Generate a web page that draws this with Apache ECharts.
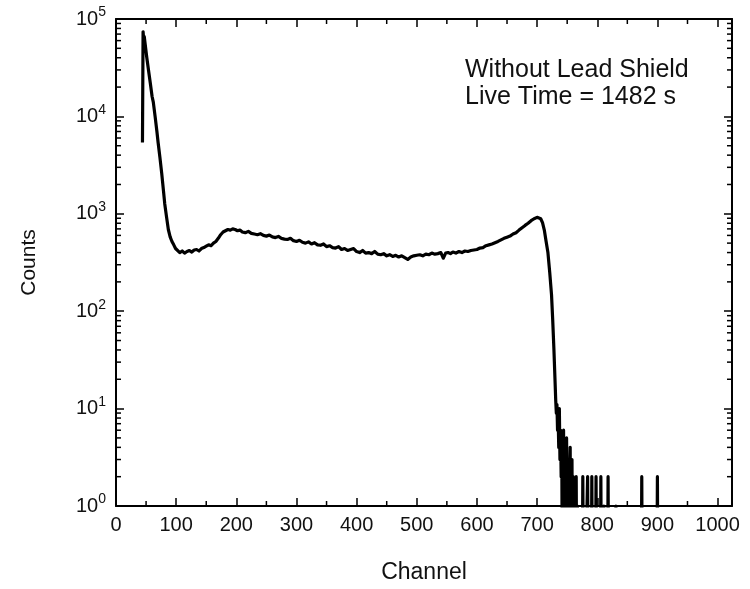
<!DOCTYPE html>
<html>
<head>
<meta charset="utf-8">
<script src="https://cdn.jsdelivr.net/npm/echarts@6/dist/echarts.min.js"></script>
<style>
html,body{margin:0;padding:0;background:#fff;}
#chart{width:750px;height:589px;}
</style>
</head>
<body>
<div id="chart"></div>
<script>
// ---- data ----
var channels = [44,45,46,47,49,51,54,57,60,62,65,68,70,73,76,79,81,84,87,90,93,96,99,102,106,110,114,118,122,126,130,134,138,142,146,150,154,158,162,166,170,174,178,182,186,190,194,198,202,206,210,215,220,225,230,235,240,245,250,255,260,265,270,275,280,285,290,295,300,305,310,315,320,325,330,335,340,345,350,355,360,365,370,375,380,385,390,395,400,405,410,415,420,425,430,435,440,445,450,455,460,465,470,475,480,485,490,495,500,505,510,515,520,525,530,535,540,544,548,552,556,560,565,570,575,580,585,590,595,600,605,610,615,620,625,630,635,640,645,650,655,660,665,670,675,680,685,690,695,700,703,706,709,712,715,718,721,724,726,728,730,731,732,733,734,735,736,737,738,739,740,741,742,743,744,745,746,747,748,749,750,751,752,753,754,755,756,757,758,759,760,761,762,763,764,765,766,767,768,775,776,777,782,783,784,785,790,791,792,797,798,799,805,806,807,810,811,812,813,817,818,819,830,831,832,833,873,874,875,899,900,901,1024];
var counts = [5400,74000,62000,66000,52000,41000,30000,22000,16000,14000,10000,7000,5400,3800,2600,1700,1270,930,690,580,520,480,440,420,400,415,395,410,420,405,425,430,415,440,450,465,480,470,500,520,560,610,650,670,690,680,700,690,670,680,650,640,660,630,620,610,625,600,590,605,580,570,585,560,550,545,560,530,520,535,510,500,515,490,505,480,475,490,460,470,450,445,460,430,440,420,430,440,410,400,420,395,400,390,410,385,380,390,370,380,365,375,360,370,355,340,360,370,375,380,370,385,380,395,385,390,400,350,395,400,390,405,395,410,400,415,410,420,425,430,445,450,470,480,490,505,520,540,560,575,590,620,640,680,720,760,800,850,890,920,930,890,810,680,520,400,250,147,80,40,18,12,9,11,6,8,4,10,3,6,2,5,0,4,6,0,3,2,0,5,1,0,3,0,2,4,0,1,3,0,2,0,1,1,0,2,0,1,0,0,2,0,0,1,2,0,0,2,0,0,2,0,0,2,0,0,1,1,0,0,2,0,0,1,1,0,0,2,0,0,2,0,0];
var xTickLabels = ['0','100','200','300','400','500','600','700','800','900','1000'];
var xMinorTicks = [50,150,250,350,450,550,650,750,850,950];
var yMinorMantissas = [2,3,4,5,6,7,8,9];
var yDecades = [1,10,100,1000,10000];
var annotation = ['Without Lead Shield', 'Live Time = 1482 s'];

// build series data (zero counts fall below the log axis and are clipped)
var lineData = channels.map(function (c, i) {
  return [c, counts[i] > 0 ? counts[i] : 0.1];
});
var yMinorData = [];
yDecades.forEach(function (d) {
  yMinorMantissas.forEach(function (m) { yMinorData.push([0, m * d]); });
});
var xMinorData = xMinorTicks.map(function (v) { return [v, 1]; });

var FONT = 'Liberation Sans, Arial, sans-serif';
var X_MIN = 0, X_MAX = 1024, Y_MIN = 1, Y_MAX = 100000;

var chart = echarts.init(document.getElementById('chart'), null, {renderer: 'canvas'});

function tickLine(x1, y1, x2, y2) {
  return {type: 'line', shape: {x1: x1, y1: y1, x2: x2, y2: y2},
          style: {stroke: '#000', lineWidth: 1.5}};
}

var option = {
  animation: false,
  backgroundColor: '#fff',
  title: {
    text: annotation.join('\n'),
    left: 465, top: 57, padding: 0,
    textStyle: {fontFamily: FONT, fontSize: 25, fontWeight: 'normal', color: '#111', lineHeight: 27}
  },
  grid: {left: 116, right: 18, top: 19, bottom: 74, containLabel: false},
  xAxis: [{
    type: 'value', min: X_MIN, max: X_MAX, interval: 100, position: 'bottom',
    name: 'Channel', nameLocation: 'middle', nameGap: 55,
    nameTextStyle: {fontFamily: FONT, fontSize: 23, color: '#111'},
    axisLine: {show: true, onZero: false, lineStyle: {color: '#000', width: 2}},
    axisTick: {show: true, inside: true, length: 8, lineStyle: {color: '#000', width: 1.5}},
    axisLabel: {show: true, margin: 9, showMaxLabel: false, fontFamily: FONT, fontSize: 20, color: '#111',
      formatter: function (v) { return xTickLabels[Math.round(v / 100)] || ''; }},
    splitLine: {show: false}
  }, {
    type: 'value', min: X_MIN, max: X_MAX, interval: 100, position: 'top',
    axisLine: {show: true, onZero: false, lineStyle: {color: '#000', width: 2}},
    axisTick: {show: true, inside: true, length: 8, lineStyle: {color: '#000', width: 1.5}},
    axisLabel: {show: false}, splitLine: {show: false}
  }],
  yAxis: [{
    type: 'log', logBase: 10, min: Y_MIN, max: Y_MAX, position: 'left',
    name: 'Counts', nameLocation: 'middle', nameGap: 76,
    nameTextStyle: {fontFamily: FONT, fontSize: 21, color: '#111'},
    axisLine: {show: true, onZero: false, lineStyle: {color: '#000', width: 2}},
    axisTick: {show: true, inside: true, length: 8, lineStyle: {color: '#000', width: 1.5}},
    axisLabel: {show: true, margin: 10, color: '#111',
      formatter: function (v) { return '{b|10}{s|' + Math.round(Math.log10(v)) + '}'; },
      rich: {
        b: {fontFamily: FONT, fontSize: 20, color: '#111'},
        s: {fontFamily: FONT, fontSize: 14, color: '#111', padding: [0, 0, 13, 0]}
      }},
    splitLine: {show: false}
  }, {
    type: 'log', logBase: 10, min: Y_MIN, max: Y_MAX, position: 'right',
    axisLine: {show: true, onZero: false, lineStyle: {color: '#000', width: 2}},
    axisTick: {show: true, inside: true, length: 8, lineStyle: {color: '#000', width: 1.5}},
    axisLabel: {show: false}, splitLine: {show: false}
  }],
  series: [{
    type: 'line', xAxisIndex: 0, yAxisIndex: 0,
    data: lineData, showSymbol: false, symbol: 'none', clip: true,
    lineStyle: {color: '#000', width: 3.2, join: 'round'},
    z: 5
  }, {
    type: 'custom', xAxisIndex: 0, yAxisIndex: 0, silent: true, clip: false,
    data: yMinorData,
    renderItem: function (params, api) {
      var l = api.coord([X_MIN, api.value(1)]);
      var r = api.coord([X_MAX, api.value(1)]);
      return {type: 'group', children: [
        tickLine(l[0], l[1], l[0] + 5, l[1]),
        tickLine(r[0], r[1], r[0] - 5, r[1])
      ]};
    },
    z: 6
  }, {
    type: 'custom', xAxisIndex: 0, yAxisIndex: 0, silent: true, clip: false,
    data: xMinorData,
    renderItem: function (params, api) {
      var b = api.coord([api.value(0), Y_MIN]);
      var t = api.coord([api.value(0), Y_MAX]);
      return {type: 'group', children: [
        tickLine(b[0], b[1], b[0], b[1] - 5),
        tickLine(t[0], t[1], t[0], t[1] + 5)
      ]};
    },
    z: 6
  }]
};
chart.setOption(option);
</script>
</body>
</html>
